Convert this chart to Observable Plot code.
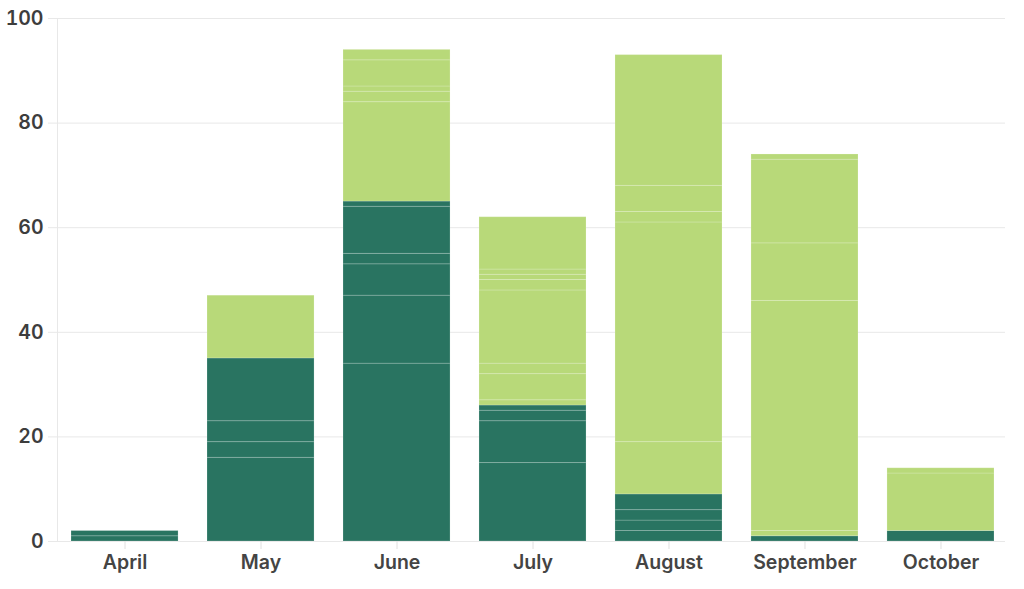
<!DOCTYPE html>
<html><head><meta charset="utf-8">
<script src="https://cdn.jsdelivr.net/npm/d3@7"></script>
<script src="https://cdn.jsdelivr.net/npm/@observablehq/plot@0.6"></script>
<style>body{margin:0;background:#fff}</style>
</head><body><div id="chart"></div>
<script>
const months = ["April","May","June","July","August","September","October"];
const groups = ["dark","light"];
const groupColors = ["#297461","#b8d979"];
const yTicks = [0,20,40,60,80,100];

// Each stacked segment (bottom to top within a month)
const segMonth = [
  "April","April",
  "May","May","May","May","May",
  "June","June","June","June","June","June","June","June","June","June","June",
  "July","July","July","July","July","July","July","July","July","July","July","July",
  "August","August","August","August","August","August","August","August","August",
  "September","September","September","September","September","September",
  "October","October","October"
];
const segGroup = [
  "dark","dark",
  "dark","dark","dark","dark","light",
  "dark","dark","dark","dark","dark","dark","light","light","light","light","light",
  "dark","dark","dark","dark","light","light","light","light","light","light","light","light",
  "dark","dark","dark","dark","light","light","light","light","light",
  "dark","light","light","light","light","light",
  "dark","light","light"
];
const segValue = [
  1,1,
  16,3,4,12,12,
  34,13,6,2,9,1,19,2,1,5,2,
  15,8,2,1,1,5,2,14,2,1,1,10,
  2,2,2,3,10,42,2,5,25,
  1,1,44,11,16,1,
  2,11,1
];

const data = segValue.map((v, i) => ({month: segMonth[i], group: segGroup[i], value: v}));

const chart = Plot.plot({
  width: 1024,
  height: 589,
  marginLeft: 57,
  marginRight: 19,
  marginTop: 18,
  marginBottom: 48,
  style: {fontFamily: "Inter, 'Open Sans', sans-serif", fontSize: "19.5px", fontWeight: 600, color: "#444", background: "#fff"},
  x: {domain: months, paddingInner: 0.213, paddingOuter: 0.092, align: 0.56, round: false, label: null},
  y: {domain: [0, 100], label: null},
  color: {domain: groups, range: groupColors},
  marks: [
    Plot.gridY(yTicks, {stroke: "#e8e8e8", strokeOpacity: 1}),
    Plot.frame({anchor: "left", stroke: "#e8e8e8"}),
    Plot.barY(data, {x: "month", y: "value", fill: "group", stroke: "#ffffff", strokeOpacity: 0.18, strokeWidth: 1}),
    Plot.axisY(yTicks, {tickSize: 9, tickPadding: 5, stroke: "#e8e8e8", fill: "#3d3d3d", label: null}),
    Plot.axisX({tickSize: 8, tickPadding: 6, stroke: "#e0e0e0", fill: "#444", label: null})
  ]
});
document.getElementById("chart").appendChild(chart);
</script>
</body></html>
